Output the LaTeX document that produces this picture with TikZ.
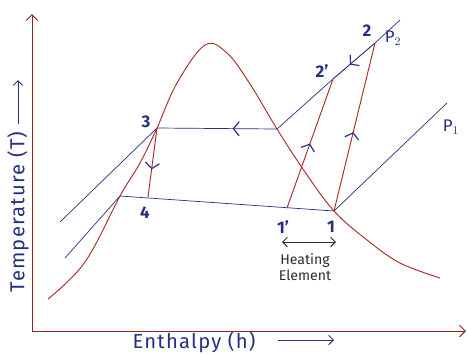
\documentclass[tikz,border=0pt]{standalone}
\usepackage{fontspec}
\setmainfont{Fira Sans}
\usetikzlibrary{arrows.meta, positioning, decorations.markings, calc}
\definecolor{BR}{RGB}{165,45,40}
\definecolor{NB}{RGB}{38,48,128}
\definecolor{AX}{RGB}{140,38,38}
\definecolor{DG}{RGB}{45,45,45}

\begin{document}
\begin{tikzpicture}[
  x=0.03cm, y=-0.03cm,
  axis/.style={draw=AX, thick, -{Straight Barb[length=5pt,width=10pt]}},
  vapour/.style={draw=BR, thick},
  isobar/.style={draw=NB, semithick},
  midarrow/.style={postaction={decorate}, decoration={markings,
      mark=at position #1 with {\arrow[NB, line width=1pt]{Straight Barb[length=5pt,width=12pt]}}}},
  pnum/.style={text=NB, font=\Large\bfseries},
  lbl/.style={text=NB, font=\Large},
  axlbl/.style={text=NB, font=\LARGE\addfontfeature{LetterSpace=6}}
]
\useasboundingbox (0,0) rectangle (468,355);

% axes
\coordinate (O)    at (32,331);
\coordinate (Ytip) at (32,14);
\coordinate (Xtip) at (466,331);
\draw[axis] (O) -- (Ytip);
\draw[axis] (O) -- (Xtip);

% state points
\coordinate (s1)  at (334,211);
\coordinate (s1p) at (287,208);
\coordinate (s2)  at (375,43);
\coordinate (s2p) at (333,79);
\coordinate (s3)  at (157,128);
\coordinate (s4)  at (148,197);
\coordinate (g)   at (277,129);
\coordinate (f)   at (120,196);
\coordinate (e3)  at (60,222);
\coordinate (ef)  at (65,258);
\coordinate (eP1) at (447,103);
\coordinate (eP2) at (400,20);

% saturation dome
\draw[vapour] plot[smooth, tension=0.6] coordinates {
  (48,299) (85,262) (120,196) (140,163) (157,128) (177,83) (205,45)
  (227,53) (250,84) (277,129) (305,172) (334,211) (367,240) (400,263) (440,278)};

% constant pressure lines
\draw[isobar] (s3) -- (e3);
\draw[isobar] (f) -- (ef);
\draw[isobar] (f) -- (s1);
\draw[isobar] (s1) -- (eP1);
\draw[isobar, midarrow=0.37] (g) -- (s3);
\draw[isobar] (g) -- (s2p);
\draw[isobar, thick, midarrow=0.6] (s2) -- (s2p);
\draw[isobar] (s2) -- (eP2);

% compression and expansion
\draw[vapour, midarrow=0.6]  (s3) -- (s4);
\draw[vapour, midarrow=0.5]  (s1p) -- (s2p);
\draw[vapour, midarrow=0.47] (s1) -- (s2);

% point labels
\node[pnum] (n3)  at (146,122) {3};
\node[pnum] (n4)  at (145,213) {4};
\node[pnum] (n1p) at (283,227) {1'};
\node[pnum] (n1)  at (331,227) {1};
\node[pnum] (n2p) at (322,71) {2'};
\node[pnum] (n2)  at (367,31) {2};
\node[lbl]  (nP2) at (393,38) {P$_2$};
\node[lbl]  (nP1) at (451,127) {P$_1$};

% heating element
\coordinate (hL) at (282,242);
\coordinate (hR) at (336,242);
\draw[DG, thick, {Straight Barb[length=4pt,width=8pt]}-{Straight Barb[length=4pt,width=8pt]}] (hL) -- (hR);
\node[font=\large, align=center, text=DG, inner sep=0pt] (heat) at (305,267) {Heating\\Element};

% axis labels
\node[axlbl, rotate=90] (tlab) at (18,212) {Temperature (T)};
\coordinate (tarr) at (18,80);
\draw[NB, thick, -{Straight Barb[length=4pt,width=8pt]}] (tlab.east) ++(0,-3) -- (tarr);
\node[axlbl] (hlab) at (194,342) {Enthalpy (h)};
\coordinate (harr) at (334,340);
\draw[NB, thick, -{Straight Barb[length=4pt,width=8pt]}] ($(hlab.east)+(18,-2)$) -- (harr);
\end{tikzpicture}
\end{document}
